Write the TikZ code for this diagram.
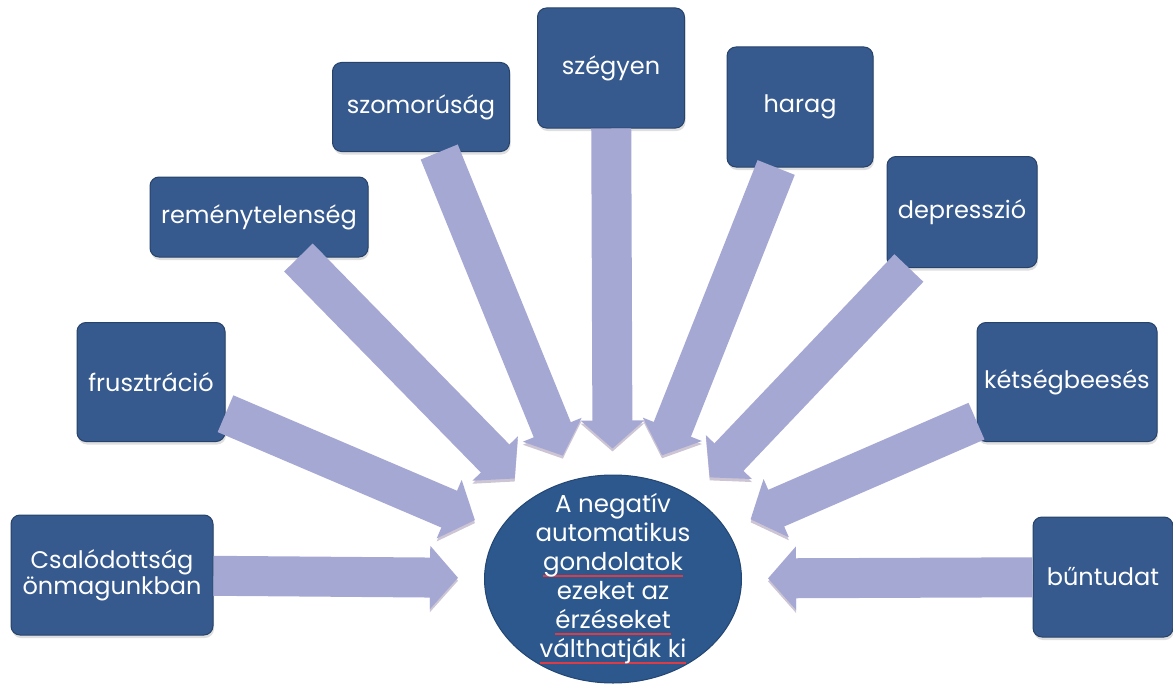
\documentclass[tikz,border=0pt]{standalone}
\usepackage{fontspec}
\setmainfont{Poppins}
\usetikzlibrary{arrows.meta,shapes.geometric,shadows}
\definecolor{boxblue}{RGB}{54,89,142}
\definecolor{ellblue}{RGB}{44,88,142}
\definecolor{arrowlav}{RGB}{166,168,212}
\definecolor{arrowshade}{RGB}{205,196,212}
\definecolor{spellred}{RGB}{220,60,70}
\newsavebox{\spellbox}
\newcommand{\spellul}[1]{\sbox{\spellbox}{#1}\leavevmode\rlap{{\color{spellred}\rule[-0.45ex]{\wd\spellbox}{1.6pt}}}\usebox{\spellbox}}

\begin{document}
\begin{tikzpicture}[
    x=1pt, y=-1pt,
    box/.style={rectangle, draw=boxblue!75!black, fill=boxblue, rounded corners=9pt, line width=1pt, align=center, text=white, inner sep=0pt, font=\fontsize{24}{26}\selectfont, drop shadow={opacity=0.25, shadow xshift=1pt, shadow yshift=-3pt}},
    arrow/.style={line width=40pt, arrowlav, -{Triangle[length=28pt,width=62pt]}, shorten >=26pt, preaction={draw=arrowshade, transform canvas={yshift=-3pt}}},
]
\useasboundingbox (0,0) rectangle (1173,685);

\node[ellipse, draw=ellblue!80!black, fill=ellblue, line width=1pt, minimum width=257pt, minimum height=208pt, inner sep=0pt] (gond) at (613,579) {};
\node[align=center, text=white, font=\fontsize{24.5}{29}\selectfont] (gondtxt) at (gond) {A negatív\\ automatikus\\ \spellul{gondolatok}\\ ezeket az\\ \spellul{érzéseket}\\ \spellul{válthatják ki}};

\node[box, minimum width=202pt, minimum height=120pt] (csal) at (112,575) {Csalódottság\\ önmagunkban};
\node[box, minimum width=148pt, minimum height=119pt] (frusz) at (151,382) {frusztráció};
\node[box, minimum width=218pt, minimum height=80pt] (remeny) at (259,217) {reménytelenség};
\node[box, minimum width=177pt, minimum height=89pt] (szomor) at (421,107) {szomorúság};
\node[box, minimum width=147pt, minimum height=120pt] (szegyen) at (611,68) {szégyen};
\node[box, minimum width=146pt, minimum height=120pt] (harag) at (800,107) {harag};
\node[box, minimum width=150pt, minimum height=111pt] (depr) at (962,212) {depresszió};
\node[box, minimum width=180pt, minimum height=119pt] (ketseg) at (1067,382) {kétségbeesés};
\node[box, minimum width=140pt, minimum height=120pt] (bun) at (1103,577) {bűntudat};

\draw[arrow] (csal) -- (gond);
\draw[arrow] (frusz) -- (gond);
\draw[arrow] (remeny) -- (gond);
\draw[arrow] (szomor) -- (gond);
\draw[arrow] (szegyen) -- (gond);
\draw[arrow] (harag) -- (gond);
\draw[arrow] (depr) -- (gond);
\draw[arrow] (ketseg) -- (gond);
\draw[arrow] (bun) -- (gond);

\end{tikzpicture}
\end{document}
